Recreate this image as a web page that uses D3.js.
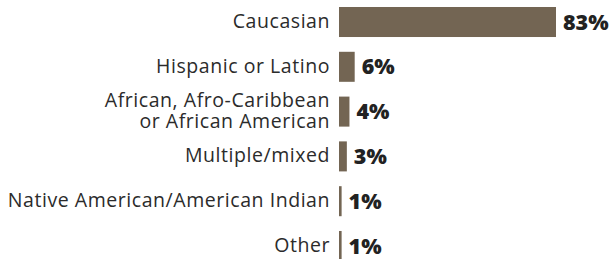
<!DOCTYPE html>
<html>
<head>
<meta charset="utf-8">
<script src="https://cdn.jsdelivr.net/npm/d3@7"></script>
<style>
  body { margin: 0; background: #fff; }
  svg { display: block; }
</style>
</head>
<body>
<svg id="chart"></svg>
<script>
// data
var categories = [
  ["Caucasian"],
  ["Hispanic or Latino"],
  ["African, Afro-Caribbean", "or African American"],
  ["Multiple/mixed"],
  ["Native American/American Indian"],
  ["Other"]
];
var values = [83, 6, 4, 3, 1, 1];

var width = 616,
    height = 259,
    barLeft = 339;

var svg = d3.select("#chart").attr("width", width).attr("height", height);

var x = d3.scaleLinear().domain([0, 83]).range([0, 217]);

var y = d3.scaleBand()
    .domain(d3.range(values.length))
    .range([7, 261])
    .paddingInner(0.33)
    .paddingOuter(0);

var rows = svg.selectAll("g.row")
    .data(values)
    .enter().append("g")
    .attr("class", "row")
    .attr("transform", function(d, i) { return "translate(0," + y(i) + ")"; });

rows.append("rect")
    .attr("x", barLeft)
    .attr("y", 0)
    .attr("width", function(d) { return x(d); })
    .attr("height", y.bandwidth())
    .attr("fill", "#736553");

// category labels, right aligned next to the bars
rows.append("text")
    .attr("x", barLeft - 9)
    .attr("text-anchor", "end")
    .style("font-family", "'Open Sans', sans-serif")
    .style("font-size", "19.5px")
    .style("letter-spacing", "0.55px")
    .style("fill", "#2b2b2b")
    .each(function(d, i) {
        var lines = categories[i];
        var t = d3.select(this);
        var mid = y.bandwidth() / 2;
        var lh = 21;
        lines.forEach(function(l, k) {
            t.append("tspan")
                .attr("x", barLeft - 9)
                .attr("y", mid + 6 + (k - (lines.length - 1) / 2) * lh)
                .text(l);
        });
    });

// value labels
rows.append("text")
    .attr("x", function(d) { return barLeft + x(d) + 7; })
    .attr("y", y.bandwidth() / 2 + 7.5)
    .style("font-family", "'Open Sans', sans-serif")
    .style("font-weight", "800")
    .style("font-size", "21.5px")
    .style("fill", "#222")
    .text(function(d) { return d + "%"; });
</script>
</body>
</html>
